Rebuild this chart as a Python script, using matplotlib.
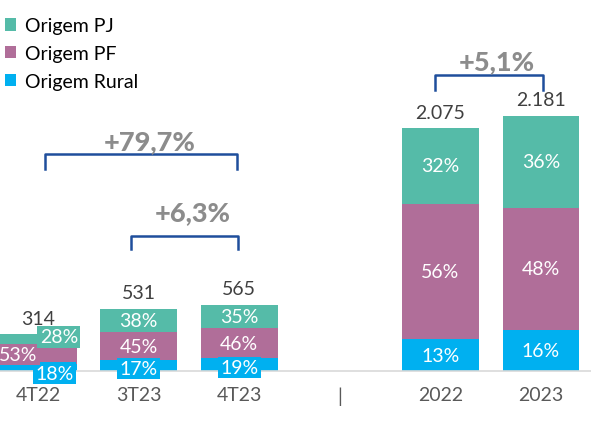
import matplotlib
matplotlib.use("Agg")
import matplotlib.pyplot as plt
import numpy as np

plt.rcParams['font.family'] = ['Lato', 'DejaVu Sans']

categorias = ['4T22', '3T23', '4T23', '|', '2022', '2023']
totais = [314, 531, 565, None, 2075, 2181]
totais_txt = ['314', '531', '565', '', '2.075', '2.181']
pct_rural = [18, 17, 19, None, 13, 16]
pct_pf = [53, 45, 46, None, 56, 48]
pct_pj = [28, 38, 35, None, 32, 36]

crescimentos = ['+79,7%', '+6,3%', '+5,1%']

cor_pj = '#55BBA8'
cor_pf = '#B06E99'
cor_rural = '#00B0F0'

fig = plt.figure(figsize=(5.91, 4.27), dpi=100)
ax = fig.add_axes([0, 0.1288, 1, 0.8712])

idx = [i for i, t in enumerate(totais) if t is not None]
x = np.array(idx, dtype=float)
tot = np.array([totais[i] for i in idx], dtype=float)
r = np.array([pct_rural[i] for i in idx]) / 100 * tot
pf = np.array([pct_pf[i] for i in idx]) / 100 * tot
pj = tot - r - pf

w = 0.765
ax.bar(x, r, w, color=cor_rural, label='Origem Rural')
ax.bar(x, pf, w, bottom=r, color=cor_pf, label='Origem PF')
ax.bar(x, pj, w, bottom=r + pf, color=cor_pj, label='Origem PJ')

# rótulos de percentual
offsets = {0: {'pj': (15, 2), 'pf': (-14, 0), 'r': (12, -4)}}
for k, i in enumerate(idx):
    segs = [('r', 0, r[k], pct_rural[i], cor_rural),
            ('pf', r[k], pf[k], pct_pf[i], cor_pf),
            ('pj', r[k] + pf[k], pj[k], pct_pj[i], cor_pj)]
    for nome, base, h, p, cor in segs:
        dx, dy = offsets.get(i, {}).get(nome, (0, 0))
        box = None
        if i in (0, 1, 2) and (nome == 'r' or i == 0):
            box = dict(boxstyle='square,pad=0.12', fc=cor, ec='none')
            if i != 0:
                dy = -2
        ax.annotate(f'{p}%', (x[k], base + h / 2), xytext=(dx, dy),
                    textcoords='offset points', ha='center', va='center',
                    color='white', fontsize=14, bbox=box)
    ax.annotate(totais_txt[i], (x[k], tot[k]), xytext=(0, 11.5),
                textcoords='offset points', ha='center', va='center',
                color='#404040', fontsize=14)

# chaves de crescimento
chaves = [(0.07, 1.98, 1855, 1727, 1.11, 1966),
          (0.92, 1.99, 1154, 1043, 1.54, 1359),
          (3.95, 5.02, 2531, 2403, 4.56, 2650)]
for txt, (x0, x1, yh, yb, xt, yt) in zip(crescimentos, chaves):
    ax.plot([x0, x0, x1, x1], [yb, yh, yh, yb], color='#1F4E9C', lw=1.8,
            solid_joinstyle='round')
    ax.text(xt, yt, txt, ha='center', va='center', fontsize=19.5,
            fontweight='black', color='#8C8C8C')

ax.set_xlim(-0.378, 5.497)
ax.set_ylim(0, 3180)
ax.set_xticks(range(len(categorias)))
ax.set_xticklabels(categorias)
ax.tick_params(axis='x', length=0, pad=11, labelsize=14, labelcolor='#595959')
ax.set_yticks([])
for s in ['top', 'right', 'left']:
    ax.spines[s].set_visible(False)
ax.spines['bottom'].set_color('#D9D9D9')
ax.spines['bottom'].set_linewidth(1.2)

h, l = ax.get_legend_handles_labels()
fig.legend(h[::-1], l[::-1], loc='upper left', bbox_to_anchor=(-0.005, 0.975),
           frameon=False, fontsize=14, handlelength=0.6, handleheight=0.6,
           handletextpad=0.45, labelspacing=0.55, borderaxespad=0)

fig.savefig('out.png', dpi=100)
